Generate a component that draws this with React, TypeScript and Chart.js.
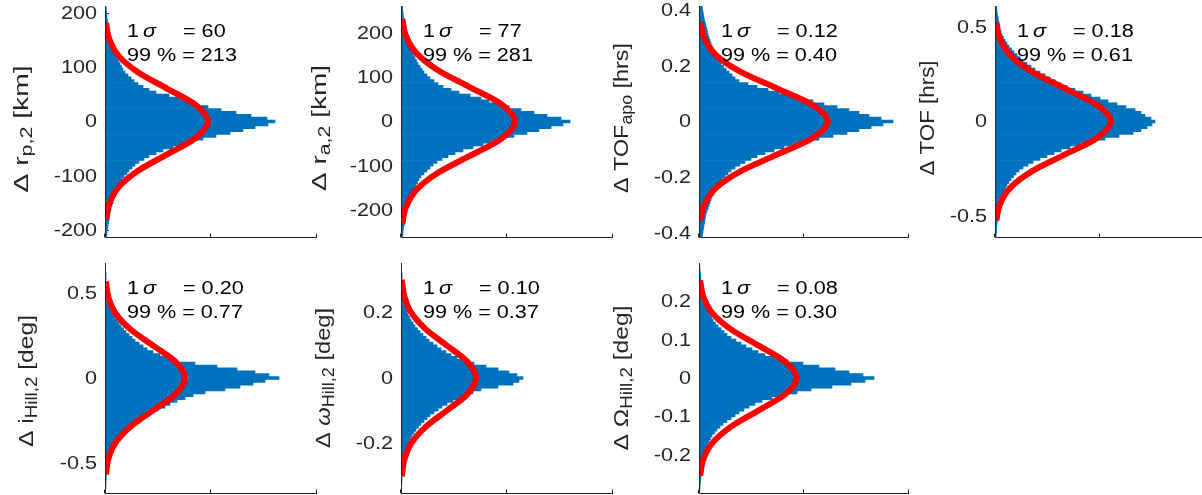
import React, { useEffect, useRef } from 'react';
import { Chart, registerables } from 'chart.js';

Chart.register(...registerables);

const FONT = '"Liberation Sans", Arial, Helvetica, sans-serif';
const SX = 1.2; // horizontal stretch of horizontal text
const AXIS = '#262626';
const BLUE = '#0072BD';
const RED = '#FF0000';
const NB = 40; // bins on each side of zero

// ---------- Panel 1: Δ r_p,2 [km] ----------
const RP_RANGE = 212;
const RP_STEP = 5.3;
const RP_LOW = [163, 150, 138, 125, 111, 98, 88, 78, 68, 58, 51, 44, 39, 34, 30, 27, 24, 22, 19, 17,
  15.5, 14, 13, 12, 10.5, 9, 8.5, 8, 7, 6, 5.5, 5, 4.5, 4, 3.5, 3, 2.5, 2, 1.8, 1.5];
const RP_UP = [170, 162, 146, 131, 116, 103, 91, 83, 75, 64, 51, 44, 38, 33, 29, 26, 23, 20, 18, 16.5,
  15, 13.5, 12, 11, 10, 9, 8, 7.5, 7, 6, 5, 4.5, 4, 3.5, 3, 2.5, 2, 2, 1.5, 1.2, 1];
const RP_RED_X = [1.1, 4.5, 13.9, 33.4, 62.5, 90.9, 103, 90.9, 62.5, 33.4, 13.9, 4.5, 1.1];
const RP_RED_Y = [-180, -150, -120, -90, -60, -30, 0, 30, 60, 90, 120, 150, 180];
const RP_TICKS = [-200, -100, 0, 100, 200];
const RP_TICK_LABELS = ['-200', '-100', '0', '100', '200'];

// ---------- Panel 2: Δ r_a,2 [km] ----------
const RA_RANGE = 260;
const RA_STEP = 6.5;
const RA_LOW = [162, 150, 138, 126, 113, 100, 91, 82, 72, 62, 54, 47, 41, 36, 32, 29, 26, 23, 20, 18,
  16.5, 15, 13.5, 12, 11, 10, 9, 8, 7, 6, 5.5, 5, 4.5, 4, 3.5, 3, 2.5, 2, 1.8, 1.5];
const RA_UP = [169, 160, 146, 133, 120, 108, 96, 88, 80, 69, 58, 50, 42, 37, 33, 29, 26, 23, 21, 19,
  17, 15.5, 14, 12.5, 11, 10, 9, 8, 7, 6, 5.5, 5, 4.5, 4, 3.5, 3, 2.5, 2.2, 2, 1.7, 1.5];
const RA_RED_X = [1.3, 5.0, 15.4, 37.0, 69.1, 100.6, 114, 100.6, 69.1, 37.0, 15.4, 5.0, 1.3];
const RA_RED_Y = [-231, -192.5, -154, -115.5, -77, -38.5, 0, 38.5, 77, 115.5, 154, 192.5, 231];
const RA_TICKS = [-200, -100, 0, 100, 200];
const RA_TICK_LABELS = ['-200', '-100', '0', '100', '200'];

// ---------- Panel 3: Δ TOF_apo [hrs] ----------
const TA_RANGE = 0.416;
const TA_STEP = 0.0104;
const TA_LOW = [184, 172, 160, 148, 134, 120, 107, 95, 85, 75, 66, 58, 52, 46, 41, 36, 32, 29, 26, 23,
  21, 19, 17.5, 16, 14.5, 13, 12, 11, 10, 9, 8, 7, 6.5, 6, 5.5, 5, 4.5, 4, 3.5, 3];
const TA_UP = [194, 182, 170, 160, 150, 138, 125, 114, 103, 92, 80, 69, 58, 49, 40, 36, 33, 30, 27, 24.5,
  22, 20, 18, 16.5, 15, 14, 13, 12, 11, 10, 9, 8.5, 8, 7, 6.5, 5.5, 5, 4.5, 4, 3.5, 3];
const TA_RED_X = [1.4, 5.6, 17.4, 41.8, 78.1, 113.6, 128.7, 113.6, 78.1, 41.8, 17.4, 5.6, 1.4];
const TA_RED_Y = [-0.357, -0.2975, -0.238, -0.1785, -0.119, -0.0595, 0, 0.0595, 0.119, 0.1785, 0.238, 0.2975, 0.357];
const TA_TICKS = [-0.4, -0.2, 0, 0.2, 0.4];
const TA_TICK_LABELS = ['-0.4', '-0.2', '0', '0.2', '0.4'];

// ---------- Panel 4: Δ TOF [hrs] ----------
const TF_RANGE = 0.614;
const TF_STEP = 0.01535;
const TF_LOW = [157, 152, 146, 138, 124, 110, 97, 85, 75, 66, 59, 52, 45, 38, 33, 28, 24, 21, 18.5, 16,
  14, 12, 10.5, 9, 8, 7, 6, 5, 4.5, 4, 3.5, 3, 2.7, 2.5, 2.2, 2, 1.7, 1.5, 1.2, 1];
const TF_UP = [160, 156, 150, 146, 140, 131, 122, 113, 105, 96, 88, 80, 72, 66, 60, 55, 50, 45, 40, 36,
  32, 28, 25, 22, 19, 16.5, 14, 12, 10, 8.5, 7, 6, 5, 4.5, 4, 3.5, 3, 2.5, 2, 1.8, 1.5];
const TF_RED_X = [1.3, 5.1, 15.7, 37.6, 70.2, 102.1, 115.7, 102.1, 70.2, 37.6, 15.7, 5.1, 1.3];
const TF_RED_Y = [-0.525, -0.4375, -0.35, -0.2625, -0.175, -0.0875, 0, 0.0875, 0.175, 0.2625, 0.35, 0.4375, 0.525];
const TF_TICKS = [-0.5, 0, 0.5];
const TF_TICK_LABELS = ['-0.5', '0', '0.5'];

// ---------- Panel 5: Δ i_Hill,2 [deg] ----------
const IH_RANGE = 0.68;
const IH_STEP = 0.017;
const IH_LOW = [160, 148, 135, 120, 100, 88, 80, 72, 65, 60, 53, 45, 40, 36, 32, 28, 25, 22, 19, 16,
  14, 12, 10, 8, 7, 6, 5, 4, 3.5, 3, 2.5, 2, 1.8, 1.5, 1.2, 1, 1, 0.8, 0.5, 0.5];
const IH_UP = [174, 164, 150, 132, 112, 90, 72, 62, 55, 48, 42, 38, 34, 30, 27, 24, 21, 18.5, 16, 14,
  12, 10, 8, 7, 6, 5, 4, 3.5, 3, 2.5, 2, 1.8, 1.5, 1.2, 1, 1, 1, 0.8, 0.5, 0.5, 0.5];
const IH_RED_X = [0.9, 3.5, 10.8, 26.0, 48.5, 70.6, 80, 70.6, 48.5, 26.0, 10.8, 3.5, 0.9];
const IH_RED_Y = [-0.57, -0.475, -0.38, -0.285, -0.19, -0.095, 0, 0.095, 0.19, 0.285, 0.38, 0.475, 0.57];
const IH_TICKS = [-0.5, 0, 0.5];
const IH_TICK_LABELS = ['-0.5', '0', '0.5'];

// ---------- Panel 6: Δ ω_Hill,2 [deg] ----------
const WH_RANGE = 0.351;
const WH_STEP = 0.008775;
const WH_LOW = [118, 112, 97, 80, 72, 65, 58, 52, 46, 41, 37, 33, 29, 26, 23, 20, 17.5, 15, 13, 11,
  9.5, 8, 7, 6, 5, 4, 3.5, 3, 2.5, 2, 1.8, 1.5, 1.2, 1, 1, 1, 0.8, 0.5, 0.5, 0.5];
const WH_UP = [122, 116, 108, 97, 85, 73, 62, 56, 50, 45, 40, 36, 32, 28, 25, 22, 19, 16.5, 14, 12,
  10, 8.5, 7, 6, 5, 4.5, 4, 3.5, 3, 2.5, 2, 1.8, 1.5, 1.2, 1, 1, 1, 0.8, 0.5, 0.5, 0.5];
const WH_RED_X = [0.8, 3.3, 10.1, 24.4, 45.5, 66.2, 75, 66.2, 45.5, 24.4, 10.1, 3.3, 0.8];
const WH_RED_Y = [-0.3, -0.25, -0.2, -0.15, -0.1, -0.05, 0, 0.05, 0.1, 0.15, 0.2, 0.25, 0.3];
const WH_TICKS = [-0.2, 0, 0.2];
const WH_TICK_LABELS = ['-0.2', '0', '0.2'];

// ---------- Panel 7: Δ Ω_Hill,2 [deg] ----------
const OH_RANGE = 0.30;
const OH_STEP = 0.0075;
const OH_LOW = [166, 152, 133, 112, 98, 85, 73, 63, 56, 50, 45, 40, 36, 32, 28, 24, 21, 18, 15.5, 13,
  11.5, 10, 8.5, 7.5, 6.5, 6, 5, 4.5, 4, 3.5, 3, 2.5, 2.2, 2, 1.8, 1.5, 1.2, 1, 0.8, 0.5];
const OH_UP = [175, 164, 150, 136, 120, 104, 88, 76, 66, 59, 53, 47, 42, 37, 32, 28, 25, 22, 19, 16.5,
  14, 12.5, 11, 9.5, 8, 7, 6, 5, 4.5, 4, 3.5, 3, 2.5, 2.2, 2, 1.8, 1.5, 1.2, 1, 0.8, 0.5];
const OH_RED_X = [1.1, 4.3, 13.2, 31.7, 59.3, 86.2, 97.7, 86.2, 59.3, 31.7, 13.2, 4.3, 1.1];
const OH_RED_Y = [-0.255, -0.2125, -0.17, -0.1275, -0.085, -0.0425, 0, 0.0425, 0.085, 0.1275, 0.17, 0.2125, 0.255];
const OH_TICKS = [-0.2, -0.1, 0, 0.1, 0.2];
const OH_TICK_LABELS = ['-0.2', '-0.1', '0', '0.1', '0.2'];

// ---------- annotation texts ----------
const SIGMA_TEXT = ['60', '77', '0.12', '0.18', '0.20', '0.10', '0.08'];
const P99_TEXT = ['213', '281', '0.40', '0.61', '0.77', '0.37', '0.30'];

type Part = { t: string; sub?: boolean; it?: boolean };

// low arrays run from the bin just below zero downwards; up arrays from zero upwards
const joinHist = (low: number[], up: number[]) => [...low].reverse().concat(up);

const PANELS = [
  { axisX: 105, top: 6, h: 231, w: 212, R: RP_RANGE, step: RP_STEP, hist: joinHist(RP_LOW, RP_UP), rx: RP_RED_X, ry: RP_RED_Y, ticks: RP_TICKS, tl: RP_TICK_LABELS,
    lab: -77, len: 127, cy: 129, label: [{ t: 'Δ r' }, { t: 'p,2', sub: true }, { t: ' [km]' }] as Part[] },
  { axisX: 401, top: 6, h: 231, w: 212, R: RA_RANGE, step: RA_STEP, hist: joinHist(RA_LOW, RA_UP), rx: RA_RED_X, ry: RA_RED_Y, ticks: RA_TICKS, tl: RA_TICK_LABELS,
    lab: -75, len: 126, cy: 128, label: [{ t: 'Δ r' }, { t: 'a,2', sub: true }, { t: ' [km]' }] as Part[] },
  { axisX: 699, top: 6, h: 231, w: 210, R: TA_RANGE, step: TA_STEP, hist: joinHist(TA_LOW, TA_UP), rx: TA_RED_X, ry: TA_RED_Y, ticks: TA_TICKS, tl: TA_TICK_LABELS,
    lab: -71, len: 150, cy: 118, label: [{ t: 'Δ TOF' }, { t: 'apo', sub: true }, { t: ' [hrs]' }] as Part[] },
  { axisX: 995, top: 6, h: 231, w: 210, R: TF_RANGE, step: TF_STEP, hist: joinHist(TF_LOW, TF_UP), rx: TF_RED_X, ry: TF_RED_Y, ticks: TF_TICKS, tl: TF_TICK_LABELS,
    lab: -61, len: 115, cy: 118, label: [{ t: 'Δ TOF [hrs]' }] as Part[] },
  { axisX: 105, top: 263, h: 230, w: 212, R: IH_RANGE, step: IH_STEP, hist: joinHist(IH_LOW, IH_UP), rx: IH_RED_X, ry: IH_RED_Y, ticks: IH_TICKS, tl: IH_TICK_LABELS,
    lab: -72, len: 132, cy: 381, label: [{ t: 'Δ i' }, { t: 'Hill,2', sub: true }, { t: ' [deg]' }] as Part[] },
  { axisX: 401, top: 263, h: 230, w: 212, R: WH_RANGE, step: WH_STEP, hist: joinHist(WH_LOW, WH_UP), rx: WH_RED_X, ry: WH_RED_Y, ticks: WH_TICKS, tl: WH_TICK_LABELS,
    lab: -71, len: 140, cy: 378, label: [{ t: 'Δ ' }, { t: 'ω', it: true }, { t: 'Hill,2', sub: true }, { t: ' [deg]' }] as Part[] },
  { axisX: 699, top: 263, h: 230, w: 210, R: OH_RANGE, step: OH_STEP, hist: joinHist(OH_LOW, OH_UP), rx: OH_RED_X, ry: OH_RED_Y, ticks: OH_TICKS, tl: OH_TICK_LABELS,
    lab: -71, len: 145, cy: 378, label: [{ t: 'Δ Ω' }, { t: 'Hill,2', sub: true }, { t: ' [deg]' }] as Part[] },
];

const LEFT = 100;
const PAD_TOP = 6;
const PAD_RIGHT = 4;
const BOTTOM = 10;
const LABEL_F = 21;

function drawText(ctx: CanvasRenderingContext2D, t: string, x: number, y: number, font: string,
  align: 'left' | 'right', baseline: CanvasTextBaseline, color: string) {
  ctx.save();
  ctx.font = font;
  ctx.fillStyle = color;
  ctx.textBaseline = baseline;
  ctx.textAlign = 'left';
  ctx.translate(x, y);
  ctx.scale(SX, 1);
  const w = ctx.measureText(t).width;
  ctx.fillText(t, align === 'right' ? -w : 0, 0);
  ctx.restore();
}

function drawRotLabel(ctx: CanvasRenderingContext2D, parts: Part[], bx: number, cy: number, F: number, len: number) {
  ctx.save();
  ctx.fillStyle = AXIS;
  ctx.textBaseline = 'alphabetic';
  ctx.textAlign = 'left';
  const fontFor = (p: Part) => `${p.it ? 'italic ' : ''}${p.sub ? Math.round(F * 0.74) : F}px ${FONT}`;
  const widths = parts.map((p) => { ctx.font = fontFor(p); return ctx.measureText(p.t).width; });
  const total = widths.reduce((a, b) => a + b, 0);
  const k = len / total;
  ctx.translate(bx, cy);
  ctx.rotate(-Math.PI / 2);
  ctx.scale(k, 1);
  let x = -total / 2;
  parts.forEach((p, i) => {
    ctx.font = fontFor(p);
    ctx.fillText(p.t, x, p.sub ? F * 0.2 : 0);
    x += widths[i];
  });
  ctx.restore();
}

function makeDecor(p: typeof PANELS[number], idx: number) {
  return {
    id: 'decor' + idx,
    beforeDatasetsDraw(chart: any) {
      const { ctx, chartArea: a, scales } = chart;
      ctx.save();
      ctx.strokeStyle = AXIS;
      ctx.lineWidth = 1;
      for (const v of p.ticks) {
        const py = Math.round(scales.y.getPixelForValue(v)) + 0.5;
        ctx.beginPath();
        ctx.moveTo(a.left, py);
        ctx.lineTo(a.left + 4, py);
        ctx.stroke();
      }
      ctx.restore();
    },
    afterDatasetsDraw(chart: any) {
      const { ctx, chartArea: a, scales } = chart;
      const xs = scales.x;
      const ys = scales.y;
      ctx.save();
      ctx.strokeStyle = AXIS;
      ctx.lineWidth = 1;
      const L = Math.round(a.left) + 0.5;
      const B = Math.round(a.bottom) + 0.5;
      ctx.beginPath();
      ctx.moveTo(L, Math.round(a.top));
      ctx.lineTo(L, B);
      ctx.lineTo(Math.round(a.right), B);
      ctx.stroke();
      for (const t of xs.ticks) {
        const px = Math.round(xs.getPixelForValue(t.value)) - 0.5;
        ctx.beginPath();
        ctx.moveTo(px, B);
        ctx.lineTo(px, B - 4);
        ctx.stroke();
      }
      ctx.restore();
      // tick labels
      p.ticks.forEach((v, i) => {
        drawText(ctx, p.tl[i], a.left - 8, ys.getPixelForValue(v) + 1, `18px ${FONT}`, 'right', 'middle', AXIS);
      });
      // axis label
      drawRotLabel(ctx, p.label, a.left + p.lab, p.cy - p.top + PAD_TOP, LABEL_F, p.len);
      // annotation
      const x0 = a.left + 22;
      const y1 = a.top + 31;
      const y2 = a.top + 55;
      drawText(ctx, '1', x0, y1, `18px ${FONT}`, 'left', 'alphabetic', '#000');
      drawText(ctx, 'σ', x0 + 16, y1, `italic 18px ${FONT}`, 'left', 'alphabetic', '#000');
      drawText(ctx, '= ' + SIGMA_TEXT[idx], x0 + 56, y1, `18px ${FONT}`, 'left', 'alphabetic', '#000');
      drawText(ctx, '99 % = ' + P99_TEXT[idx], x0, y2, `18px ${FONT}`, 'left', 'alphabetic', '#000');
    },
  };
}

function Panel({ p, idx }: { p: typeof PANELS[number]; idx: number }) {
  const ref = useRef<HTMLCanvasElement | null>(null);
  const cw = LEFT + p.w + PAD_RIGHT;
  const ch = PAD_TOP + p.h + BOTTOM;
  useEffect(() => {
    const canvas = ref.current!;
    const xMax = p.w;
    const chart = new Chart(canvas, {
      type: 'bar',
      data: {
        datasets: [
          {
            type: 'line',
            data: p.ry.map((y, i) => ({ x: p.rx[i], y })),
            borderColor: RED,
            borderWidth: 6,
            pointRadius: 0,
            cubicInterpolationMode: 'monotone',
            fill: false,
            order: 0,
          } as any,
          {
            type: 'bar',
            data: p.hist.map((v, i) => ({ x: v, y: (i - NB) * p.step })),
            backgroundColor: BLUE,
            borderWidth: 0,
            barPercentage: 1,
            categoryPercentage: 1,
            order: 1,
          } as any,
        ],
      },
      options: {
        indexAxis: 'y',
        animation: false,
        responsive: false,
        events: [],
        layout: { padding: { left: 0, top: PAD_TOP, right: PAD_RIGHT, bottom: 0 } },
        plugins: { legend: { display: false }, tooltip: { enabled: false } },
        scales: {
          x: {
            type: 'linear', position: 'bottom', min: 0, max: xMax,
            grid: { display: false }, border: { display: false }, ticks: { display: false },
            afterBuildTicks: (s: any) => { s.ticks = [0, xMax / 2, xMax].map((value) => ({ value })); },
            afterFit: (s: any) => { s.height = BOTTOM; },
          },
          y: {
            type: 'linear', position: 'left', min: -p.R, max: p.R, offset: false,
            grid: { display: false }, border: { display: false }, ticks: { display: false },
            afterBuildTicks: (s: any) => { s.ticks = p.ticks.map((value) => ({ value })); },
            afterFit: (s: any) => { s.width = LEFT; },
          },
        },
      } as any,
      plugins: [makeDecor(p, idx)],
    });
    return () => chart.destroy();
  }, []);
  return (
    <canvas
      ref={ref}
      width={cw}
      height={ch}
      style={{ position: 'absolute', left: p.axisX - LEFT, top: p.top - PAD_TOP, width: cw, height: ch, display: 'block' }}
    />
  );
}

export default function App() {
  return (
    <div style={{ position: 'absolute', left: 0, top: 0, width: 1202, height: 495, overflow: 'hidden', background: '#fff' }}>
      {PANELS.map((p, i) => (
        <Panel key={i} p={p} idx={i} />
      ))}
    </div>
  );
}
